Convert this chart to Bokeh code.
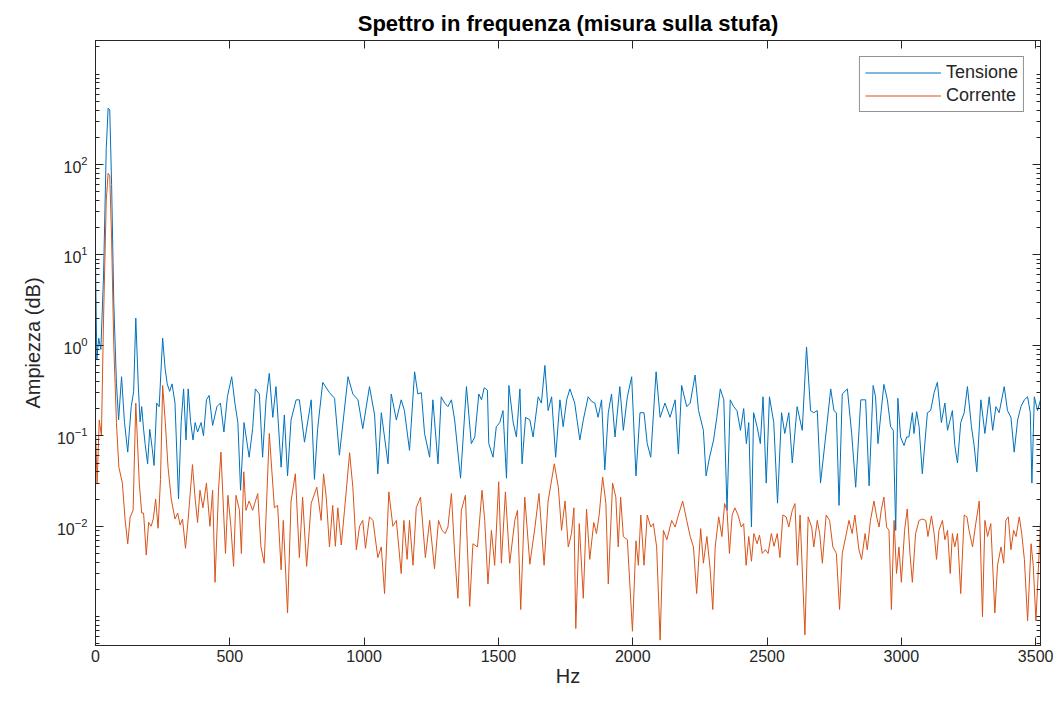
from bokeh.plotting import figure
from bokeh.models import (LinearAxis, LogAxis, Range1d, FixedTicker, Legend,
                          LegendItem, CustomJSTickFormatter)
from bokeh.embed import file_html
from bokeh.resources import INLINE

# ---------------- data ----------------
freq_tensione = [0, 5, 12, 20, 30, 40, 47, 53, 60, 68, 78, 86, 97, 108, 120, 133, 142, 150, 159, 166,
                 172, 179, 185, 194, 202, 211, 218, 228, 237, 250, 259, 267, 276, 285, 296, 309, 319, 328,
                 337, 345, 354, 363, 371, 380, 393, 402, 413, 423, 436, 452, 465, 478, 491, 507, 519, 530,
                 540, 553, 572, 585, 595, 610, 622, 635, 647, 660, 672, 691, 703, 715, 728, 747, 759, 778,
                 803, 815, 827, 846, 871, 890, 908, 940, 958, 977, 995, 1020, 1039, 1051, 1064, 1089, 1101,
                 1120, 1138, 1150, 1169, 1188, 1200, 1213, 1225, 1244, 1256, 1275, 1287, 1300, 1312, 1325,
                 1337, 1359, 1381, 1399, 1412, 1427, 1437, 1447, 1459, 1464, 1480, 1492, 1505, 1517, 1530,
                 1539, 1555, 1567, 1580, 1588, 1601, 1617, 1629, 1648, 1660, 1673, 1685, 1698, 1713, 1729,
                 1741, 1754, 1766, 1784, 1803, 1816, 1834, 1847, 1859, 1871, 1884, 1896, 1909, 1921, 1934,
                 1952, 1965, 1980, 1996, 2012, 2027, 2042, 2054, 2067, 2087, 2102, 2120, 2139, 2158, 2170,
                 2182, 2201, 2214, 2232, 2245, 2263, 2273, 2286, 2301, 2313, 2326, 2339, 2351, 2363, 2376,
                 2388, 2401, 2413, 2423, 2432, 2442, 2450, 2463, 2475, 2485, 2497, 2509, 2525, 2539, 2554,
                 2566, 2581, 2594, 2612, 2631, 2647, 2662, 2674, 2687, 2699, 2718, 2737, 2749, 2758, 2768,
                 2780, 2799, 2815, 2830, 2849, 2867, 2880, 2895, 2904, 2913, 2925, 2935, 2948, 2960, 2970,
                 2979, 2987, 2997, 3010, 3020, 3028, 3041, 3047, 3057, 3066, 3078, 3097, 3109, 3122, 3134,
                 3149, 3162, 3172, 3190, 3199, 3209, 3221, 3234, 3246, 3261, 3271, 3281, 3296, 3311, 3327,
                 3340, 3352, 3364, 3383, 3395, 3408, 3420, 3433, 3445, 3458, 3470, 3480, 3486, 3495, 3507,
                 3518]
amp_tensione = [8, 0.7, 1.2, 0.9, 6, 150, 420, 400, 60, 3, 0.38, 0.15, 0.45, 0.14, 0.066, 0.21, 0.31, 2.0,
                0.375, 0.143, 0.21, 0.118, 0.08, 0.049, 0.118, 0.073, 0.047, 0.23, 0.21, 1.2, 0.56, 0.375,
                0.31, 0.375, 0.23, 0.02, 0.143, 0.33, 0.09, 0.33, 0.143, 0.09, 0.14, 0.11, 0.14, 0.1, 0.25,
                0.28, 0.13, 0.21, 0.23, 0.11, 0.27, 0.45, 0.23, 0.14, 0.025, 0.14, 0.058, 0.12, 0.33, 0.29,
                0.058, 0.25, 0.49, 0.16, 0.35, 0.045, 0.17, 0.036, 0.15, 0.25, 0.25, 0.085, 0.25, 0.033,
                0.12, 0.39, 0.3, 0.26, 0.061, 0.45, 0.29, 0.25, 0.12, 0.35, 0.17, 0.038, 0.18, 0.049, 0.29,
                0.15, 0.25, 0.19, 0.069, 0.51, 0.29, 0.3, 0.106, 0.058, 0.25, 0.049, 0.27, 0.23, 0.21, 0.25,
                0.15, 0.034, 0.35, 0.082, 0.097, 0.29, 0.25, 0.34, 0.32, 0.082, 0.058, 0.126, 0.14, 0.19,
                0.034, 0.36, 0.14, 0.097, 0.33, 0.049, 0.16, 0.15, 0.097, 0.27, 0.23, 0.6, 0.19, 0.27, 0.058,
                0.25, 0.126, 0.25, 0.33, 0.23, 0.09, 0.15, 0.27, 0.24, 0.23, 0.16, 0.25, 0.042, 0.18, 0.29,
                0.097, 0.35, 0.115, 0.27, 0.45, 0.036, 0.18, 0.18, 0.082, 0.058, 0.51, 0.16, 0.23, 0.16, 0.25,
                0.063, 0.36, 0.21, 0.23, 0.47, 0.19, 0.115, 0.036, 0.058, 0.09, 0.16, 0.33, 0.25, 0.015, 0.25,
                0.21, 0.19, 0.115, 0.2, 0.082, 0.14, 0.0098, 0.18, 0.126, 0.082, 0.27, 0.03, 0.27, 0.14,
                0.018, 0.18, 0.106, 0.18, 0.05, 0.21, 0.115, 0.96, 0.19, 0.18, 0.19, 0.03, 0.097, 0.33, 0.19,
                0.18, 0.017, 0.29, 0.33, 0.106, 0.027, 0.25, 0.25, 0.028, 0.36, 0.27, 0.082, 0.19, 0.37, 0.25,
                0.126, 0.115, 0.009, 0.26, 0.097, 0.078, 0.097, 0.097, 0.18, 0.106, 0.185, 0.126, 0.038,
                0.18, 0.19, 0.3, 0.39, 0.14, 0.23, 0.115, 0.19, 0.078, 0.05, 0.14, 0.18, 0.35, 0.126, 0.078,
                0.04, 0.25, 0.106, 0.27, 0.115, 0.21, 0.18, 0.35, 0.19, 0.16, 0.066, 0.15, 0.21, 0.25, 0.27,
                0.18, 0.03, 0.27, 0.19, 0.25]

freq_corrente = [0, 6, 14, 22, 30, 40, 47, 53, 60, 68, 78, 87, 100, 110, 120, 129, 140, 150, 163, 172,
                 179, 189, 198, 207, 215, 224, 233, 242, 250, 260, 270, 282, 296, 306, 315, 324, 335, 345,
                 361, 371, 380, 389, 400, 413, 426, 436, 445, 458, 467, 478, 484, 493, 504, 514, 523, 536,
                 543, 552, 560, 572, 585, 604, 616, 628, 647, 666, 678, 691, 699, 715, 728, 744, 759, 771,
                 786, 803, 824, 840, 849, 859, 871, 883, 893, 902, 915, 927, 946, 958, 971, 983, 995, 1005,
                 1020, 1033, 1051, 1064, 1076, 1092, 1107, 1120, 1138, 1148, 1160, 1169, 1182, 1194, 1210,
                 1228, 1244, 1262, 1277, 1290, 1302, 1312, 1325, 1337, 1349, 1362, 1377, 1393, 1405, 1422,
                 1439, 1449, 1461, 1474, 1486, 1501, 1511, 1526, 1542, 1561, 1571, 1583, 1598, 1617, 1636,
                 1651, 1670, 1685, 1708, 1723, 1735, 1748, 1760, 1772, 1781, 1788, 1801, 1816, 1828, 1840,
                 1855, 1865, 1875, 1888, 1900, 1909, 1925, 1937, 1946, 1955, 1965, 1980, 1999, 2012, 2021,
                 2030, 2042, 2054, 2067, 2077, 2089, 2102, 2114, 2127, 2145, 2158, 2170, 2186, 2201, 2214,
                 2226, 2238, 2253, 2263, 2276, 2288, 2298, 2307, 2320, 2332, 2342, 2351, 2360, 2370, 2380,
                 2392, 2404, 2413, 2422, 2432, 2442, 2451, 2463, 2472, 2482, 2494, 2504, 2516, 2526, 2538,
                 2548, 2559, 2571, 2581, 2594, 2604, 2613, 2623, 2641, 2653, 2666, 2674, 2687, 2696, 2706,
                 2720, 2733, 2745, 2758, 2770, 2780, 2793, 2805, 2817, 2827, 2842, 2852, 2865, 2873, 2885,
                 2898, 2908, 2917, 2925, 2935, 2945, 2954, 2963, 2973, 2982, 2991, 3000, 3012, 3022, 3032,
                 3041, 3053, 3066, 3078, 3091, 3099, 3112, 3122, 3131, 3140, 3153, 3162, 3172, 3182, 3190,
                 3199, 3209, 3221, 3234, 3244, 3252, 3265, 3277, 3290, 3302, 3311, 3321, 3333, 3348, 3358,
                 3371, 3381, 3389, 3398, 3408, 3418, 3427, 3439, 3448, 3458, 3470, 3483, 3491, 3501, 3514,
                 3518]
amp_corrente = [0.12, 0.03, 0.15, 0.1, 2, 40, 80, 75, 15, 1.0, 0.14, 0.045, 0.03, 0.012, 0.0064, 0.0126,
                0.015, 0.23, 0.03, 0.014, 0.014, 0.0048, 0.011, 0.01, 0.012, 0.02, 0.0095, 0.033, 0.36, 0.14,
                0.045, 0.02, 0.012, 0.014, 0.0103, 0.012, 0.0057, 0.012, 0.048, 0.02, 0.011, 0.025, 0.016,
                0.03, 0.01, 0.025, 0.0024, 0.025, 0.066, 0.012, 0.005, 0.022, 0.01, 0.0036, 0.022, 0.015,
                0.005, 0.04, 0.015, 0.019, 0.015, 0.023, 0.0059, 0.0039, 0.106, 0.016, 0.017, 0.0033, 0.0116,
                0.0011, 0.019, 0.038, 0.0045, 0.021, 0.0036, 0.018, 0.027, 0.0116, 0.038, 0.021, 0.0059,
                0.017, 0.006, 0.016, 0.0062, 0.015, 0.065, 0.027, 0.0055, 0.01, 0.0116, 0.0057, 0.0127,
                0.0116, 0.0045, 0.0059, 0.0018, 0.024, 0.01, 0.0116, 0.003, 0.0116, 0.0043, 0.0116, 0.0037,
                0.016, 0.021, 0.0045, 0.0116, 0.0034, 0.0116, 0.009, 0.0083, 0.0098, 0.023, 0.005, 0.0016,
                0.015, 0.022, 0.0013, 0.0064, 0.0059, 0.025, 0.0116, 0.0023, 0.009, 0.0037, 0.031, 0.0039,
                0.024, 0.0039, 0.0116, 0.015, 0.0012, 0.021, 0.0038, 0.0098, 0.023, 0.0037, 0.019, 0.049,
                0.027, 0.009, 0.019, 0.0059, 0.0083, 0.016, 0.00074, 0.0107, 0.0016, 0.0155, 0.0043, 0.011,
                0.0083, 0.0133, 0.035, 0.0178, 0.0023, 0.03, 0.021, 0.0059, 0.021, 0.0077, 0.0071, 0.00069,
                0.0069, 0.0037, 0.0133, 0.0037, 0.0133, 0.0098, 0.0107, 0.0059, 0.00055, 0.009, 0.0071,
                0.0116, 0.0098, 0.0133, 0.019, 0.0116, 0.0077, 0.0059, 0.0018, 0.0094, 0.0039, 0.0077,
                0.0034, 0.0012, 0.0059, 0.0127, 0.0077, 0.0178, 0.015, 0.005, 0.0133, 0.016, 0.0133, 0.0098,
                0.0107, 0.0037, 0.0077, 0.0041, 0.0083, 0.0064, 0.008, 0.005, 0.0055, 0.005, 0.0083, 0.006,
                0.0083, 0.0045, 0.0133, 0.0127, 0.0098, 0.015, 0.0178, 0.0037, 0.0133, 0.00063, 0.0127,
                0.0098, 0.0059, 0.0116, 0.0083, 0.0039, 0.0133, 0.0116, 0.0059, 0.005, 0.0012, 0.005, 0.0077,
                0.0116, 0.0083, 0.0133, 0.0055, 0.0043, 0.0083, 0.0055, 0.0116, 0.019, 0.0127, 0.0098, 0.015,
                0.021, 0.0098, 0.009, 0.0012, 0.0116, 0.003, 0.0059, 0.0024, 0.009, 0.0155, 0.005, 0.0024,
                0.0083, 0.0116, 0.012, 0.0116, 0.0077, 0.013, 0.0083, 0.0043, 0.009, 0.0116, 0.0071, 0.009,
                0.003, 0.0083, 0.0059, 0.0083, 0.0018, 0.0133, 0.0127, 0.009, 0.0059, 0.0107, 0.019, 0.001,
                0.0116, 0.0077, 0.0107, 0.0011, 0.0037, 0.0059, 0.0039, 0.0116, 0.0127, 0.0055, 0.009,
                0.0077, 0.0127, 0.0083, 0.0043, 0.0009, 0.0064, 0.0037, 0.0009, 0.0059, 0.0116]

x_ticks = [0, 500, 1000, 1500, 2000, 2500, 3000, 3500]
y_ticks = [1e-2, 1e-1, 1e0, 1e1, 1e2]
series_names = ["Tensione", "Corrente"]

# ---------------- figure ----------------
FONT = "Liberation Sans"
TXT = "#262626"

# minor log ticks (2..9 per decade, plus the unlabeled decades at the ends)
y_minor = [m * 10.0 ** e for e in range(-4, 4) for m in range(1, 10)
           if 4.8e-4 <= m * 10.0 ** e <= 2350 and not (m == 1 and -2 <= e <= 2)]

p = figure(width=1061, height=714, y_axis_type="log",
           x_range=Range1d(0, 3518), y_range=Range1d(4.8e-4, 2350),
           output_backend="svg", toolbar_location=None,
           min_border_left=95, min_border_right=21, min_border_top=40, min_border_bottom=69)
p.background_fill_color = "white"
p.border_fill_color = "white"
p.grid.visible = False
p.outline_line_color = TXT
p.outline_line_width = 1

p.title.text = "Spettro in frequenza (misura sulla stufa)"
p.title.align = "center"
p.title.text_font = FONT
p.title.text_font_size = "22px"
p.title.text_font_style = "bold"
p.title.text_color = "black"
p.title.standoff = 10

r1 = p.line(freq_tensione, amp_tensione, line_color="#0072BD", line_width=1)
r2 = p.line(freq_corrente, amp_corrente, line_color="#D95319", line_width=1)

xa = p.xaxis[0]
xa.ticker = FixedTicker(ticks=x_ticks)
xa.axis_label = "Hz"
ya = p.yaxis[0]
ya.ticker = FixedTicker(ticks=y_ticks, minor_ticks=y_minor)
ya.axis_label = "Ampiezza (dB)"

for ax in (xa, ya):
    ax.axis_line_color = TXT
    ax.major_tick_line_color = TXT
    ax.minor_tick_line_color = TXT
    ax.major_tick_in = 8
    ax.major_tick_out = 0
    ax.minor_tick_in = 4
    ax.minor_tick_out = 0
    ax.major_label_text_font = FONT
    ax.major_label_text_font_size = "16px"
    ax.major_label_text_color = TXT
    ax.axis_label_text_font = FONT
    ax.axis_label_text_font_size = "20px"
    ax.axis_label_text_font_style = "normal"
    ax.axis_label_text_color = TXT
xa.major_label_standoff = 4
xa.axis_label_standoff = 0
ya.major_label_standoff = 8
ya.axis_label_standoff = 10

blank = CustomJSTickFormatter(code="return ''")
top = LinearAxis(ticker=FixedTicker(ticks=x_ticks), formatter=blank,
                 major_tick_in=8, major_tick_out=0, major_label_standoff=0,
                 axis_line_color=TXT, major_tick_line_color=TXT)
right = LogAxis(ticker=FixedTicker(ticks=y_ticks, minor_ticks=y_minor), formatter=blank,
                major_tick_in=8, major_tick_out=0, minor_tick_in=4, minor_tick_out=0,
                major_label_standoff=0, axis_line_color=TXT, major_tick_line_color=TXT,
                minor_tick_line_color=TXT)
p.add_layout(top, "above")
p.add_layout(right, "right")

legend = Legend(items=[LegendItem(label=series_names[0], renderers=[r1]),
                       LegendItem(label=series_names[1], renderers=[r2])],
                location="top_right", margin=16, padding=5, spacing=2,
                glyph_width=76, glyph_height=21, label_height=21, label_standoff=5,
                label_text_font=FONT, label_text_font_size="18px", label_text_color=TXT,
                border_line_color=TXT, border_line_width=1, background_fill_alpha=1)
p.add_layout(legend)

open("out.html", "w").write(file_html(p, INLINE))
